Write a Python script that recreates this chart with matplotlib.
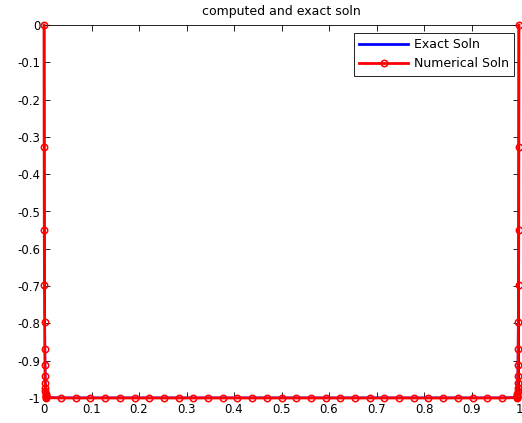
import matplotlib
matplotlib.use("Agg")
import matplotlib.pyplot as plt

plt.rcParams['font.family'] = ['DejaVu Sans']

# grid points, clustered in thin layers at both ends
x_left = [0.0, 0.0003, 0.0006, 0.0009, 0.0013, 0.0016, 0.0019, 0.0022, 0.0025,
          0.0028, 0.0031, 0.0034, 0.0038, 0.0041, 0.0044, 0.0047, 0.005]
y_left = [0.0, -0.327, -0.549, -0.696, -0.797, -0.868, -0.911, -0.940, -0.960,
          -0.973, -0.982, -0.988, -0.992, -0.995, -0.997, -0.998, -0.999]

x_mid = [0.0359, 0.0669, 0.0978, 0.1288, 0.1597, 0.1906, 0.2216, 0.2525, 0.2834,
         0.3144, 0.3453, 0.3763, 0.4072, 0.4381, 0.4691, 0.5000, 0.5309, 0.5619,
         0.5928, 0.6238, 0.6547, 0.6856, 0.7166, 0.7475, 0.7784, 0.8094, 0.8403,
         0.8713, 0.9022, 0.9331, 0.9641]
y_mid = [-1.0] * len(x_mid)

x_right = [0.995, 0.9953, 0.9956, 0.9959, 0.9962, 0.9966, 0.9969, 0.9972, 0.9975,
           0.9978, 0.9981, 0.9984, 0.9987, 0.9991, 0.9994, 0.9997, 1.0]
y_right = [-0.999, -0.998, -0.997, -0.995, -0.992, -0.988, -0.982, -0.973, -0.960,
           -0.940, -0.911, -0.868, -0.797, -0.696, -0.549, -0.327, 0.0]

x_num = x_left + x_mid + x_right
y_num = y_left + y_mid + y_right

fig = plt.figure(figsize=(5.22, 4.23), dpi=100)
ax = fig.add_axes([44 / 522, 25 / 423, 475 / 522, 373 / 423])

ax.plot(x_num, y_num, color='blue', lw=2, label='Exact Soln')
ax.plot(x_num, y_num, color='red', lw=2, marker='o', markersize=4.6,
        markerfacecolor='none', markeredgewidth=1.1, label='Numerical Soln',
        clip_on=False, zorder=5)

ax.set_xlim(0, 1)
ax.set_ylim(-1, 0)
ax.set_xticks([i / 10 for i in range(11)])
ax.set_xticklabels(['0', '0.1', '0.2', '0.3', '0.4', '0.5', '0.6', '0.7', '0.8', '0.9', '1'])
ax.set_yticks([-i / 10 for i in range(11)])
ax.set_yticklabels(['0', '-0.1', '-0.2', '-0.3', '-0.4', '-0.5', '-0.6', '-0.7', '-0.8', '-0.9', '-1'])
ax.tick_params(direction='in', top=True, right=True, length=4, width=0.6,
               labelsize=8.5)
ax.tick_params(axis='x', pad=3.5)
ax.tick_params(axis='y', pad=2.5)
for s in ax.spines.values():
    s.set_linewidth(0.6)

ax.set_title('computed and exact soln', fontsize=9, pad=7)

leg = ax.legend(loc='upper right', fontsize=9, handlelength=3.9, handletextpad=0.45,
                labelspacing=0.5, borderpad=0.42, borderaxespad=0, fancybox=False,
                framealpha=1, edgecolor='black', bbox_to_anchor=(0.9895, 0.9786))
leg.get_frame().set_linewidth(0.6)

fig.savefig('out.png', dpi=100)
